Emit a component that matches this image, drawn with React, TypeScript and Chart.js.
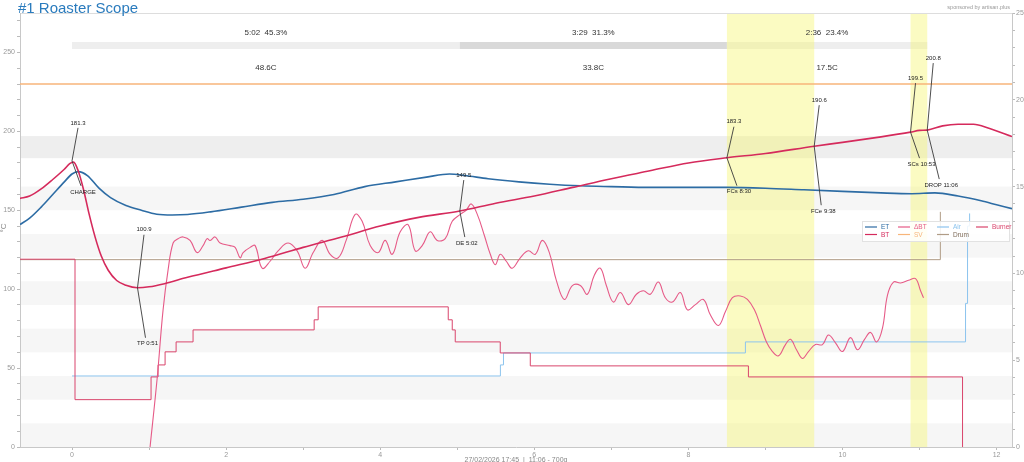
import { useEffect, useRef } from 'react';
import { Chart, registerables } from 'chart.js';
Chart.register(...registerables);

// ---------------- data ----------------
const etTime = [-0.675, -0.55, -0.4, -0.25, -0.1, 0, 0.08, 0.2, 0.35, 0.5, 0.7, 0.9, 1.1, 1.3, 1.5, 1.8, 2.2, 2.6, 3.0, 3.4, 3.8, 4.2, 4.6, 4.9, 5.1, 5.4, 5.8, 6.2, 6.6, 7.0, 7.5, 8.0, 8.5, 9.0, 9.5, 10.0, 10.5, 10.9, 11.2, 11.5, 11.8, 12.0, 12.2];
const etValues = [141, 145, 152, 160, 168, 173, 174.5, 172, 164, 158, 153, 150, 147.5, 147, 147.3, 149, 152, 155, 157, 160, 165, 168, 171, 173, 172, 170, 168, 166.5, 165.5, 165, 164.5, 164.5, 164.5, 164, 163, 162, 161, 160.5, 161, 159, 156, 153.5, 151];

const btTime = [-0.675, -0.55, -0.4, -0.25, -0.1, -0.03, 0.02, 0.08, 0.15, 0.22, 0.3, 0.38, 0.47, 0.58, 0.7, 0.85, 1.0, 1.2, 1.5, 2.0, 2.5, 3.0, 3.5, 4.0, 4.5, 5.033, 5.5, 6.0, 6.5, 7.0, 7.5, 8.0, 8.5, 9.0, 9.633, 10.0, 10.5, 10.883, 11.0, 11.1, 11.3, 11.5, 11.7, 11.9, 12.2];
const btValues = [157.5, 159, 163.5, 169.5, 176, 179.5, 180.5, 175, 163, 148, 133, 121, 112, 105.5, 102.5, 100.9, 101.5, 103.5, 107.5, 113.5, 119.5, 126.5, 133, 140, 145.5, 149.5, 154.5, 159, 164.5, 170, 175, 180, 183.3, 186, 190.6, 193, 196.5, 199.5, 200.6, 200.8, 203.5, 204.5, 204.5, 202, 196.7];

const rorTime = [1.013, 1.104, 1.182, 1.247, 1.312, 1.377, 1.442, 1.532, 1.623, 1.701, 1.753, 1.792, 1.857, 1.922, 2.052, 2.117, 2.182, 2.221, 2.312, 2.377, 2.468, 2.571, 2.675, 2.805, 2.922, 3.026, 3.130, 3.247, 3.351, 3.455, 3.558, 3.675, 3.766, 3.870, 3.974, 4.065, 4.156, 4.260, 4.364, 4.455, 4.545, 4.649, 4.740, 4.844, 4.935, 5.039, 5.117, 5.182, 5.260, 5.351, 5.429, 5.494, 5.558, 5.636, 5.714, 5.818, 5.922, 6.013, 6.104, 6.195, 6.286, 6.390, 6.494, 6.597, 6.688, 6.779, 6.857, 6.935, 7.026, 7.117, 7.221, 7.325, 7.416, 7.506, 7.610, 7.701, 7.792, 7.896, 7.987, 8.091, 8.195, 8.286, 8.390, 8.481, 8.571, 8.675, 8.766, 8.857, 8.935, 9.013, 9.091, 9.169, 9.260, 9.325, 9.403, 9.481, 9.558, 9.649, 9.740, 9.818, 9.909, 10.0, 10.104, 10.195, 10.286, 10.364, 10.442, 10.519, 10.584, 10.662, 10.753, 10.857, 10.948, 11.013, 11.052];
const rorValues = [0, 3.9, 7.9, 10.2, 11.75, 12.0, 12.1, 11.9, 11.2, 11.6, 12.0, 11.9, 12.1, 11.75, 11.6, 11.5, 10.9, 11.2, 11.5, 11.6, 10.3, 10.7, 11.3, 11.75, 11.3, 10.3, 11.2, 11.9, 11.1, 10.9, 11.9, 13.4, 13.0, 11.6, 11.2, 11.9, 11.1, 12.4, 12.8, 11.3, 11.6, 12.4, 11.9, 12.0, 13.0, 13.4, 13.65, 14.0, 13.4, 12.2, 11.1, 10.5, 11.1, 10.7, 10.3, 10.9, 11.3, 11.1, 11.9, 11.2, 9.6, 8.5, 9.3, 9.3, 8.8, 9.9, 10.3, 9.3, 8.35, 8.9, 8.2, 8.8, 9.0, 8.8, 9.5, 8.6, 8.35, 8.9, 7.9, 8.2, 8.5, 7.6, 7.0, 7.8, 8.6, 8.7, 8.5, 7.9, 7.0, 6.05, 5.5, 5.25, 5.9, 6.2, 5.6, 5.1, 5.5, 5.9, 5.9, 6.45, 6.0, 5.5, 6.3, 5.6, 6.2, 6.6, 6.05, 6.85, 8.75, 9.5, 9.45, 9.6, 9.7, 9.0, 8.6];

const burnerTime = [-0.675, 0.039, 1.026, 1.117, 1.208, 1.351, 1.571, 3.143, 3.195, 4.883, 4.935, 4.974, 5.558, 5.948, 8.779, 11.558];
const burnerValues = [119, 30, 44.4, 52, 60.3, 66.6, 74.2, 80.6, 88.8, 80.6, 74.2, 66.6, 59.6, 51.4, 44.4, 0];

const airTime = [0, 5.56, 5.6, 8.74, 11.597, 11.623, 11.65];
const airValues = [45, 52, 59.6, 66.6, 91, 140, 148];

const drumTime = [-0.675, 11.27];
const drumValues = [118.7, 149];

const svTime = [-0.675, 12.2];
const svValues = [230, 230];

const eventNames = ['CHARGE', 'TP 0:51', 'DE 5:02', 'FCs 8:30', 'FCe 9:38', 'SCs 10:53', 'DROP 11:06'];
const eventTimes = [0, 0.85, 5.033, 8.5, 9.633, 10.883, 11.1];
const eventTemps = [181.3, 100.9, 149.5, 183.3, 190.6, 199.5, 200.8];
const eventTempLabels = ['181.3', '100.9', '149.5', '183.3', '190.6', '199.5', '200.8'];

const phaseStarts = [0, 5.033, 8.5];
const phaseEnds = [5.033, 8.5, 11.1];
const phaseTimeLabels = ['5:02  45.3%', '3:29  31.3%', '2:36  23.4%'];
const phaseDeltaLabels = ['48.6C', '33.8C', '17.5C'];

const xMin = -0.675;
const xMax = 12.2;
const yMax = 275;
const y2Max = 25;

// ---------------- styles ----------------
const FONT = '"Liberation Sans", Arial, Helvetica, sans-serif';
const C_ET = '#2d6ca4';
const C_BT = '#d52a5c';
const C_ROR = '#e65a87';
const C_SV = '#f7b57a';
const C_AIR = '#8cc4ee';
const C_DRUM = '#b09c86';
const C_BURNER = '#d9456c';

// label offsets in px: [upper dx, upper dy, lower dx, lower dy]
const annotationOffsets = [
  [6, -38, 11, 31],
  [6.5, -58, 10, 56],
  [4, -36, 7, 32],
  [7, -36, 12, 34],
  [5, -46, 9, 65],
  [5, -54, 11, 32],
  [6, -72, 14, 55],
];

const stripeRanges = [[0, 15], [30, 45], [60, 75], [90, 105], [120, 135], [150, 165]];
const darkBand = [183, 197];

function pts(ts: number[], vs: number[]) {
  const n = Math.min(ts.length, vs.length);
  const out: { x: number; y: number }[] = [];
  for (let i = 0; i < n; i++) out.push({ x: ts[i], y: vs[i] });
  return out;
}

const scopePlugin = {
  id: 'scope',
  beforeDraw(chart: any) {
    const { ctx, chartArea: a, scales } = chart;
    const x = scales.x;
    const y = scales.y;
    ctx.save();
    ctx.fillStyle = '#ffffff';
    ctx.fillRect(0, 0, chart.width, chart.height);
    ctx.beginPath();
    ctx.rect(a.left, a.top, a.right - a.left, a.bottom - a.top);
    ctx.clip();
    ctx.fillStyle = '#f6f6f6';
    for (const [lo, hi] of stripeRanges) {
      const t = y.getPixelForValue(hi);
      const b = y.getPixelForValue(lo);
      ctx.fillRect(a.left, t, a.right - a.left, b - t);
    }
    ctx.fillStyle = '#eeeeee';
    {
      const t = y.getPixelForValue(darkBand[1]);
      const b = y.getPixelForValue(darkBand[0]);
      ctx.fillRect(a.left, t, a.right - a.left, b - t);
    }
    // phase bars
    const barColors = ['#eeeeee', '#d9d9d9', '#eeeeee'];
    for (let i = 0; i < phaseStarts.length; i++) {
      const l = x.getPixelForValue(phaseStarts[i]);
      const r = x.getPixelForValue(phaseEnds[i]);
      ctx.fillStyle = barColors[i];
      ctx.fillRect(l, a.top + 29, r - l, 7);
    }
    // yellow event bands
    ctx.fillStyle = 'rgba(246,246,110,0.42)';
    const bands = [[eventTimes[3], eventTimes[4]], [eventTimes[5], eventTimes[6]]];
    for (const [s, e] of bands) {
      const l = x.getPixelForValue(s);
      const r = x.getPixelForValue(e);
      ctx.fillRect(l, a.top, r - l, a.bottom - a.top);
    }
    // phase texts
    ctx.fillStyle = '#333';
    ctx.textAlign = 'center';
    ctx.textBaseline = 'middle';
    ctx.font = `8px ${FONT}`;
    for (let i = 0; i < phaseStarts.length; i++) {
      const cx = (x.getPixelForValue(phaseStarts[i]) + x.getPixelForValue(phaseEnds[i])) / 2;
      ctx.fillText(phaseTimeLabels[i], cx, a.top + 20);
      ctx.fillText(phaseDeltaLabels[i], cx, a.top + 55);
    }
    ctx.restore();
    // top frame line
    ctx.save();
    ctx.strokeStyle = '#dddddd';
    ctx.lineWidth = 1;
    ctx.beginPath();
    ctx.moveTo(a.left, a.top + 0.5);
    ctx.lineTo(a.right, a.top + 0.5);
    ctx.stroke();
    ctx.restore();
  },
  afterDatasetsDraw(chart: any) {
    const { ctx, scales } = chart;
    const x = scales.x;
    const y = scales.y;
    ctx.save();
    ctx.font = `6px ${FONT}`;
    ctx.fillStyle = '#222';
    ctx.strokeStyle = '#3a3a3a';
    ctx.lineWidth = 0.9;
    ctx.textAlign = 'center';
    ctx.textBaseline = 'middle';
    for (let i = 0; i < eventNames.length; i++) {
      const px = x.getPixelForValue(eventTimes[i]);
      const py = y.getPixelForValue(eventTemps[i]);
      const [ux, uy, lx, ly] = annotationOffsets[i];
      ctx.beginPath();
      ctx.moveTo(px + ux, py + uy + 5);
      ctx.lineTo(px, py);
      ctx.lineTo(px + lx - 2, py + ly - 6);
      ctx.stroke();
      ctx.fillText(eventTempLabels[i], px + ux, py + uy);
      ctx.fillText(eventNames[i], px + lx, py + ly);
    }
    ctx.restore();
  },
  afterDraw(chart: any) {
    const { ctx, chartArea: a } = chart;
    ctx.save();
    // title
    ctx.fillStyle = '#2a7bbd';
    ctx.font = `15px ${FONT}`;
    ctx.textAlign = 'left';
    ctx.textBaseline = 'alphabetic';
    ctx.fillText('#1 Roaster Scope', 18, 13);
    // sponsored
    ctx.fillStyle = '#999';
    ctx.font = `5.5px ${FONT}`;
    ctx.textAlign = 'right';
    ctx.fillText('sponsored by artisan.plus', 1010, 9);
    // y axis title
    ctx.save();
    ctx.translate(4, 228);
    ctx.rotate(-Math.PI / 2);
    ctx.textAlign = 'center';
    ctx.font = `8px ${FONT}`;
    ctx.fillStyle = '#888';
    ctx.fillText('°C', 0, 2);
    ctx.restore();
    // x axis title
    ctx.fillStyle = '#888';
    ctx.font = `7px ${FONT}`;
    ctx.textAlign = 'center';
    ctx.textBaseline = 'top';
    ctx.fillText('27/02/2026 17:45  |  11:06 - 700g', (a.left + a.right) / 2, 457);
    // legend
    const bx = a.right - 150;
    const by = a.top + 208;
    ctx.fillStyle = 'rgba(255,255,255,0.85)';
    ctx.fillRect(bx, by, 147, 20);
    ctx.strokeStyle = '#e2e2e2';
    ctx.lineWidth = 1;
    ctx.strokeRect(bx + 0.5, by + 0.5, 147, 20);
    const items: [string, string, number, number][] = [
      ['ET', C_ET, 0, 0], ['BT', C_BT, 0, 1],
      ['ΔBT', C_ROR, 1, 0], ['SV', C_SV, 1, 1],
      ['Air', C_AIR, 2, 0], ['Drum', C_DRUM, 2, 1],
      ['Burner', C_BURNER, 3, 0],
    ];
    const colX = [3, 36, 75, 114];
    ctx.font = `6.5px ${FONT}`;
    ctx.textAlign = 'left';
    ctx.textBaseline = 'middle';
    for (const [name, col, c, r] of items) {
      const lx = bx + colX[c];
      const ly = by + 6 + r * 7.5;
      ctx.strokeStyle = col;
      ctx.lineWidth = 1.2;
      ctx.beginPath();
      ctx.moveTo(lx, ly);
      ctx.lineTo(lx + 12, ly);
      ctx.stroke();
      ctx.fillStyle = col === C_DRUM ? '#7d6a58' : col;
      ctx.fillText(name, lx + 16, ly + 0.5);
    }
    ctx.restore();
  },
};

export default function App() {
  const ref = useRef<HTMLCanvasElement>(null);
  useEffect(() => {
    document.body.style.margin = '0';
    const tickFont = { size: 7, family: FONT };
    const chart = new Chart(ref.current as HTMLCanvasElement, {
      type: 'line',
      data: {
        datasets: [
          { label: 'BT', data: pts(btTime, btValues), borderColor: C_BT, borderWidth: 1.6, pointRadius: 0, cubicInterpolationMode: 'monotone', yAxisID: 'y' },
          { label: 'ET', data: pts(etTime, etValues), borderColor: C_ET, borderWidth: 1.6, pointRadius: 0, cubicInterpolationMode: 'monotone', yAxisID: 'y' },
          { label: 'ΔBT', data: pts(rorTime, rorValues), borderColor: C_ROR, borderWidth: 1.1, pointRadius: 0, tension: 0.4, yAxisID: 'y2' },
          { label: 'Burner', data: pts(burnerTime, burnerValues), borderColor: C_BURNER, borderWidth: 1, pointRadius: 0, stepped: 'before', yAxisID: 'y' },
          { label: 'Air', data: pts(airTime, airValues), borderColor: C_AIR, borderWidth: 1, pointRadius: 0, stepped: 'before', yAxisID: 'y' },
          { label: 'Drum', data: pts(drumTime, drumValues), borderColor: C_DRUM, borderWidth: 1, pointRadius: 0, stepped: 'before', yAxisID: 'y' },
          { label: 'SV', data: pts(svTime, svValues), borderColor: C_SV, borderWidth: 1.6, pointRadius: 0, yAxisID: 'y' },
        ] as any,
      },
      options: {
        animation: false,
        responsive: false,
        devicePixelRatio: 1,
        parsing: false as any,
        normalized: true,
        layout: { padding: { top: 13, left: 0, right: 0, bottom: 0 } },
        plugins: { legend: { display: false }, title: { display: false }, tooltip: { enabled: false } },
        scales: {
          x: {
            type: 'linear',
            min: xMin,
            max: xMax,
            afterFit: (s: any) => { s.height = 15; },
            ticks: {
              stepSize: 1,
              includeBounds: false,
              autoSkip: false,
              maxRotation: 0,
              padding: 1,
              color: '#999',
              font: tickFont,
              callback: (v: any) => (Math.abs(v / 2 - Math.round(v / 2)) < 1e-6 ? String(Math.round(v)) : ''),
            },
            grid: { display: true, drawOnChartArea: false, drawTicks: true, tickLength: 3, tickColor: '#bbb' },
            border: { display: true, color: '#c8c8c8' },
          },
          y: {
            type: 'linear',
            position: 'left',
            min: 0,
            max: yMax,
            afterFit: (s: any) => { s.width = 20; },
            ticks: {
              stepSize: 10,
              includeBounds: false,
              autoSkip: false,
              padding: 2,
              color: '#999',
              font: tickFont,
              callback: (v: any) => (Math.round(v) % 50 === 0 ? String(Math.round(v)) : ''),
            },
            grid: { display: true, drawOnChartArea: false, drawTicks: true, tickLength: 3, tickColor: '#bbb' },
            border: { display: true, color: '#c8c8c8' },
          },
          y2: {
            type: 'linear',
            position: 'right',
            min: 0,
            max: y2Max,
            afterFit: (s: any) => { s.width = 12; },
            ticks: {
              stepSize: 1,
              includeBounds: false,
              autoSkip: false,
              padding: 1,
              color: '#999',
              font: tickFont,
              callback: (v: any) => (Math.round(v) % 5 === 0 ? String(Math.round(v)) : ''),
            },
            grid: { display: true, drawOnChartArea: false, drawTicks: true, tickLength: 3, tickColor: '#bbb' },
            border: { display: true, color: '#c8c8c8' },
          },
        },
      } as any,
      plugins: [scopePlugin],
    });
    return () => chart.destroy();
  }, []);
  return (
    <div style={{ width: 1024, height: 462, overflow: 'hidden' }}>
      <canvas ref={ref} width={1024} height={462} style={{ display: 'block' }} />
    </div>
  );
}
